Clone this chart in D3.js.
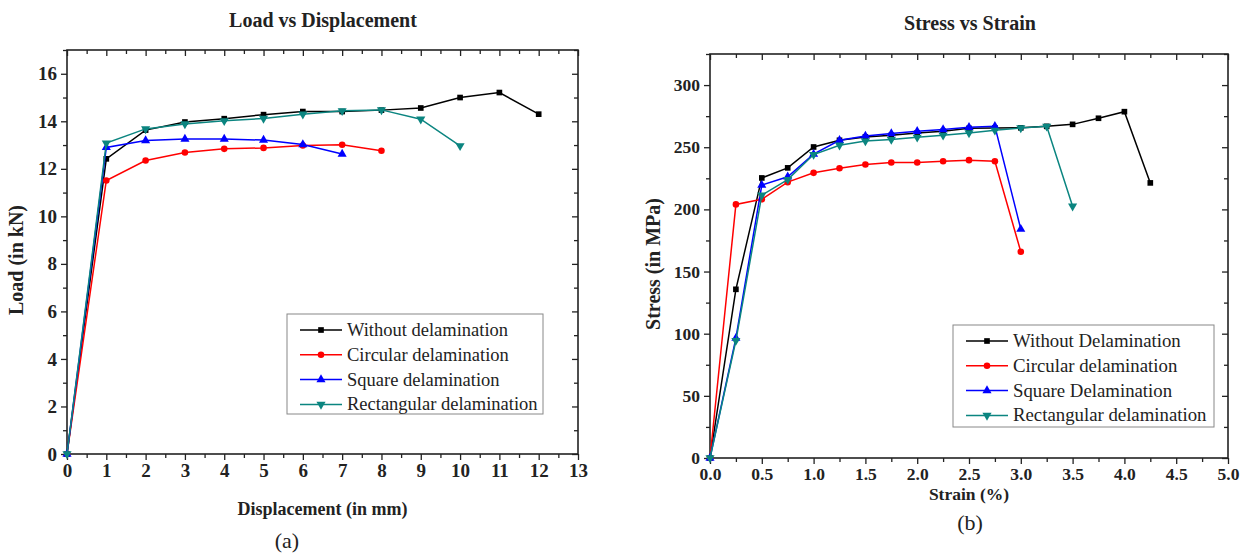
<!DOCTYPE html>
<html>
<head>
<meta charset="utf-8">
<script src="https://cdn.jsdelivr.net/npm/d3@7"></script>
<style>
  body { margin: 0; background: #fff; }
  svg { display: block; font-family: "Liberation Serif", "Times New Roman", serif; }
</style>
</head>
<body>
<svg width="1246" height="556"></svg>
<script>
// (a) load vs displacement
let dispX = [0, 1, 2, 3, 4, 5, 6, 7, 8, 9, 10, 11, 12];
let loadWithout = [0, 12.42, 13.63, 13.97, 14.11, 14.28, 14.41, 14.41, 14.47, 14.56, 15.0, 15.21, 14.3];
let loadCircular = [0, 11.51, 12.35, 12.69, 12.84, 12.88, 12.98, 13.01, 12.76];
let loadSquare = [0, 12.9, 13.19, 13.25, 13.25, 13.21, 13.02, 12.62];
let loadRect = [0, 13.08, 13.68, 13.89, 14.02, 14.12, 14.3, 14.44, 14.48, 14.09, 12.97];
let loadNames = ["Without delamination", "Circular delamination", "Square delamination", "Rectangular delamination"];
let dispTicks = [0, 1, 2, 3, 4, 5, 6, 7, 8, 9, 10, 11, 12, 13];
let loadTicks = [0, 2, 4, 6, 8, 10, 12, 14, 16];

// (b) stress vs strain
let strainX = [0, 0.25, 0.5, 0.75, 1.0, 1.25, 1.5, 1.75, 2.0, 2.25, 2.5, 2.75, 3.0, 3.25, 3.5, 3.75, 4.0, 4.25];
let stressWithout = [0, 135.7, 225.3, 233.4, 250.2, 255.6, 258.3, 259.6, 261.5, 262.8, 265.2, 265.5, 265.6, 266.8, 268.4, 273.3, 278.6, 221.3];
let stressCircular = [0, 204, 208.2, 221.9, 229.4, 233.1, 236.1, 237.7, 237.7, 238.7, 239.6, 238.7, 165.9];
let stressSquare = [0, 96.4, 219.5, 226.2, 244.4, 255.6, 259.1, 261, 262.8, 264.2, 266, 266.8, 184.1];
let stressRect = [0, 94.5, 211.4, 224, 244.1, 251.6, 255, 256.2, 258, 259.6, 261.5, 263.6, 265.5, 266.8, 202.6];
let stressNames = ["Without Delamination", "Circular delamination", "Square Delamination", "Rectangular delamination"];
let strainTicks = [0, 0.5, 1.0, 1.5, 2.0, 2.5, 3.0, 3.5, 4.0, 4.5, 5.0];
let stressTicks = [0, 50, 100, 150, 200, 250, 300];

let colors = ["#000000", "#ff0000", "#0000ff", "#0b8580"];
let symbols = ["square", "circle", "up", "down"];

let svg = d3.select("svg");
svg.append("rect").attr("width", 1246).attr("height", 556).attr("fill", "#fff");

function marker(sel, kind, color) {
  let type = kind == "square" ? d3.symbolSquare : kind == "circle" ? d3.symbolCircle : d3.symbolTriangle;
  let size = kind == "square" ? 32 : kind == "circle" ? 34 : 36;
  sel.append("path")
    .attr("d", d3.symbol().type(type).size(size))
    .attr("transform", kind == "down" ? "rotate(180)" : null)
    .attr("fill", color);
}

function panel(p) {
  let x = d3.scaleLinear().domain(p.xDomain).range([p.left, p.right]);
  let y = d3.scaleLinear().domain(p.yDomain).range([p.bottom, p.top]);
  let g = svg.append("g");

  // frame with ticks (outward bottom/left, inward top/right)
  g.append("g").attr("transform", "translate(0," + p.bottom + ")")
    .call(d3.axisBottom(x).tickValues(p.xTicks).tickSize(6).tickPadding(4).tickFormat(p.xFormat));
  g.append("g").attr("transform", "translate(0," + p.bottom + ")")
    .call(d3.axisBottom(x).tickValues(p.xMinor).tickSize(4).tickFormat(""));
  g.append("g").attr("transform", "translate(" + p.left + ",0)")
    .call(d3.axisLeft(y).tickValues(p.yTicks).tickSize(6).tickPadding(4));
  g.append("g").attr("transform", "translate(" + p.left + ",0)")
    .call(d3.axisLeft(y).tickValues(p.yMinor).tickSize(4).tickFormat(""));
  g.append("g").attr("transform", "translate(0," + p.top + ")")
    .call(d3.axisTop(x).tickValues(p.xTicks).tickSize(-6).tickFormat(""));
  g.append("g").attr("transform", "translate(0," + p.top + ")")
    .call(d3.axisTop(x).tickValues(p.xMinor).tickSize(-4).tickFormat(""));
  g.append("g").attr("transform", "translate(" + p.right + ",0)")
    .call(d3.axisRight(y).tickValues(p.yTicks).tickSize(-6).tickFormat(""));
  g.append("g").attr("transform", "translate(" + p.right + ",0)")
    .call(d3.axisRight(y).tickValues(p.yMinor).tickSize(-4).tickFormat(""));
  g.selectAll(".domain").remove();
  g.selectAll(".tick line").attr("stroke", "#222").attr("stroke-width", 1.3);
  g.selectAll(".tick text")
    .style("font-family", "'Liberation Serif', 'Times New Roman', serif")
    .style("font-weight", "bold").style("font-size", p.tickFont + "px").attr("fill", "#222");
  g.append("rect")
    .attr("x", p.left).attr("y", p.top)
    .attr("width", p.right - p.left).attr("height", p.bottom - p.top)
    .attr("fill", "none").attr("stroke", "#222").attr("stroke-width", 1.6);

  // series
  let line = d3.line().x(d => x(d[0])).y(d => y(d[1]));
  p.series.forEach((vals, i) => {
    let pts = vals.map((v, j) => [p.xs[j], v]);
    g.append("path").datum(pts).attr("d", line)
      .attr("fill", "none").attr("stroke", colors[i]).attr("stroke-width", 1.5);
    pts.forEach(d => {
      let m = g.append("g").attr("transform", "translate(" + x(d[0]) + "," + y(d[1]) + ")");
      marker(m, symbols[i], colors[i]);
    });
  });

  // legend
  let lg = g.append("g");
  lg.append("rect").attr("x", p.legend.x).attr("y", p.legend.y)
    .attr("width", p.legend.w).attr("height", p.legend.h)
    .attr("fill", "#fff").attr("stroke", "#888").attr("stroke-width", 1);
  p.names.forEach((name, i) => {
    let ry = p.legend.y + 16 + i * p.legend.step;
    let lx = p.legend.x + 13;
    lg.append("line").attr("x1", lx).attr("x2", lx + 42).attr("y1", ry).attr("y2", ry)
      .attr("stroke", colors[i]).attr("stroke-width", 1.5);
    let m = lg.append("g").attr("transform", "translate(" + (lx + 21) + "," + ry + ")");
    marker(m, symbols[i], colors[i]);
    lg.append("text").attr("x", lx + 47).attr("y", ry + 6)
      .attr("font-size", p.legend.font).attr("fill", "#222").text(name);
  });

  // titles
  svg.append("text").attr("x", p.titleX).attr("y", p.titleY).attr("text-anchor", "middle")
    .attr("font-weight", "bold").attr("font-size", 20).attr("fill", "#222").text(p.title);
  svg.append("text").attr("x", (p.left + p.right) / 2).attr("y", p.xLabelY).attr("text-anchor", "middle")
    .attr("font-weight", "bold").attr("font-size", p.labelFont).attr("fill", "#222").text(p.xLabel);
  svg.append("text").attr("transform", "translate(" + p.yLabelX + "," + ((p.top + p.bottom) / 2 + 8) + ") rotate(-90)")
    .attr("text-anchor", "middle").attr("font-weight", "bold").attr("font-size", 20).attr("fill", "#222").text(p.yLabel);
  svg.append("text").attr("x", p.capX).attr("y", p.capY).attr("text-anchor", "middle")
    .attr("font-size", 22).attr("fill", "#222").text(p.caption);
}

panel({
  left: 67, right: 578, top: 50, bottom: 454,
  xDomain: [0, 13], yDomain: [0, 17],
  xTicks: dispTicks, xMinor: d3.range(0.5, 13, 1), xFormat: d3.format("d"),
  yTicks: loadTicks, yMinor: [1, 3, 5, 7, 9, 11, 13, 15, 17],
  tickFont: 19, labelFont: 18,
  xs: dispX, series: [loadWithout, loadCircular, loadSquare, loadRect], names: loadNames,
  legend: {x: 287, y: 314, w: 256, h: 100, step: 24.8, font: 18.5},
  title: "Load vs Displacement", titleX: 323, titleY: 27,
  xLabelY: 515, xLabel: "Displacement (in mm)",
  yLabel: "Load (in kN)", yLabelX: 23,
  caption: "(a)", capX: 287, capY: 548
});

panel({
  left: 710, right: 1228, top: 54, bottom: 458,
  xDomain: [0, 5], yDomain: [0, 325],
  xTicks: strainTicks, xMinor: d3.range(0.25, 5, 0.5), xFormat: d3.format(".1f"),
  yTicks: stressTicks, yMinor: [25, 75, 125, 175, 225, 275, 325],
  tickFont: 17.5, labelFont: 17.5,
  xs: strainX, series: [stressWithout, stressCircular, stressSquare, stressRect], names: stressNames,
  legend: {x: 953, y: 325, w: 261, h: 102, step: 24.8, font: 18.8},
  title: "Stress vs Strain", titleX: 970, titleY: 30,
  xLabelY: 500, xLabel: "Strain (%)",
  yLabel: "Stress (in MPa)", yLabelX: 660,
  caption: "(b)", capX: 970, capY: 530
});
</script>
</body>
</html>
